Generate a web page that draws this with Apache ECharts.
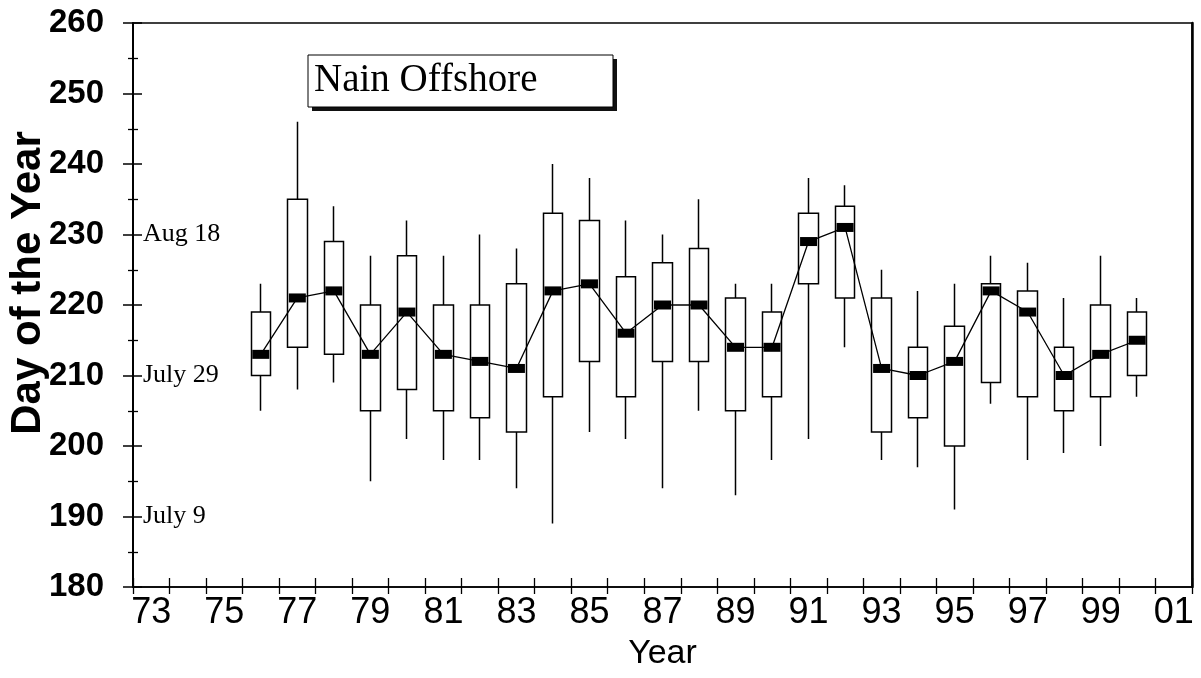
<!DOCTYPE html>
<html>
<head>
<meta charset="utf-8">
<script src="https://cdn.jsdelivr.net/npm/echarts@6/dist/echarts.min.js"></script>
<style>
  html, body { margin: 0; padding: 0; background: #fff; }
  #chart { width: 1201px; height: 678px; }
</style>
</head>
<body>
<div id="chart"></div>
<script>
// x axis categories, 73 .. 01
const categories = ['73', '74', '75', '76', '77', '78', '79', '80', '81', '82', '83', '84', '85', '86',
  '87', '88', '89', '90', '91', '92', '93', '94', '95', '96', '97', '98', '99', '00', '01']

// years that have a box
const years = ['76', '77', '78', '79', '80', '81', '82', '83', '84', '85', '86', '87', '88',
  '89', '90', '91', '92', '93', '94', '95', '96', '97', '98', '99', '00']
const lows    = [205, 208, 209, 195, 201, 198, 198, 194, 189, 202, 201, 194, 205, 193, 198, 201, 214, 198, 197, 191, 206, 198, 199, 200, 207]
const q1      = [210, 214, 213, 205, 208, 205, 204, 202, 207, 212, 207, 212, 212, 205, 207, 223, 221, 202, 204, 200, 209, 207, 205, 207, 210]
const medians = [213, 221, 222, 213, 219, 213, 212, 211, 222, 223, 216, 220, 220, 214, 214, 229, 231, 211, 210, 212, 222, 219, 210, 213, 215]
const q3      = [219, 235, 229, 220, 227, 220, 220, 223, 233, 232, 224, 226, 228, 221, 219, 233, 234, 221, 214, 217, 223, 222, 214, 220, 219]
const highs   = [223, 246, 234, 227, 232, 227, 230, 228, 240, 238, 232, 230, 235, 223, 223, 238, 237, 225, 222, 223, 227, 226, 221, 227, 221]

// date labels inside the y axis
const dateTicks = [190, 210, 230]
const dateNames = ['July 9', 'July 29', 'Aug 18']

const chart = echarts.init(document.getElementById('chart'))

const boxData = years.map((y, i) => [categories.indexOf(y), q1[i], q3[i], lows[i], highs[i]])
const medData = years.map((y, i) => [categories.indexOf(y), medians[i]])

const sans = '"Liberation Sans", Arial, sans-serif'
const serif = '"Liberation Serif", "Times New Roman", serif'

const xBase = {
  type: 'category',
  data: categories,
  position: 'bottom',
  boundaryGap: true,
  splitLine: { show: false },
}
const yBase = {
  type: 'value',
  position: 'left',
  min: 180,
  max: 260,
  interval: 10,
  splitLine: { show: false },
}

chart.setOption({
  animation: false,
  backgroundColor: '#fff',
  grid: {
    left: 133, right: 9, top: 23, bottom: 91,
    show: true, borderColor: '#000', borderWidth: 1.5, backgroundColor: 'transparent',
  },
  xAxis: [
    {
      ...xBase,
      name: 'Year',
      nameLocation: 'middle',
      nameGap: 50,
      nameTextStyle: { fontFamily: sans, fontSize: 34, color: '#000' },
      axisLine: { lineStyle: { color: '#000', width: 1.5 } },
      axisTick: { show: true, interval: 0, inside: false, length: 7, lineStyle: { color: '#000', width: 1.3 } },
      axisLabel: { interval: 1, fontFamily: sans, fontSize: 36, color: '#000', margin: 8 },
    },
    {
      ...xBase,
      axisLine: { show: false },
      axisTick: { show: true, interval: 0, inside: true, length: 9, lineStyle: { color: '#000', width: 1.3 } },
      axisLabel: { show: false },
    },
  ],
  yAxis: [
    {
      ...yBase,
      axisLine: { show: true, lineStyle: { color: '#000', width: 2 } },
      axisTick: { show: true, inside: false, length: 10, lineStyle: { color: '#000', width: 1.5 } },
      minorTick: { show: true, splitNumber: 2, length: 5, lineStyle: { color: '#000', width: 1.3 } },
      minorSplitLine: { show: false },
      axisLabel: { fontFamily: sans, fontWeight: 'bold', fontSize: 33, color: '#000', margin: 29 },
    },
    {
      ...yBase,
      axisLine: { show: false },
      axisTick: { show: true, inside: true, length: 9, lineStyle: { color: '#000', width: 1.5 } },
      minorTick: { show: true, splitNumber: 2, length: 5, lineStyle: { color: '#000', width: 1.3 } },
      axisLabel: {
        inside: true,
        margin: 10,
        fontFamily: serif,
        fontSize: 26,
        color: '#000',
        formatter: (v) => {
          const k = dateTicks.indexOf(v)
          return k >= 0 ? dateNames[k] : ''
        },
      },
    },
    {
      // heavier right frame
      ...yBase,
      position: 'right',
      axisLine: { show: true, lineStyle: { color: '#000', width: 2.5 } },
      axisTick: { show: false },
      axisLabel: { show: false },
    },
  ],
  series: [
    {
      type: 'candlestick',
      xAxisIndex: 0,
      yAxisIndex: 0,
      barWidth: 20,
      encode: { x: 0, y: [1, 2, 3, 4] },
      data: boxData,
      itemStyle: {
        color: '#fff', color0: '#fff',
        borderColor: '#000', borderColor0: '#000',
        borderWidth: 1.5,
      },
      emphasis: { disabled: true },
      z: 2,
    },
    {
      type: 'line',
      xAxisIndex: 0,
      yAxisIndex: 0,
      data: medData,
      symbol: 'rect',
      symbolSize: [17, 9],
      itemStyle: { color: '#000' },
      lineStyle: { color: '#000', width: 1.3 },
      emphasis: { disabled: true },
      z: 3,
    },
  ],
  graphic: [
    {
      type: 'text',
      x: 28,
      y: 283,
      rotation: Math.PI / 2,
      style: {
        text: 'Day of the Year',
        fontFamily: sans,
        fontWeight: 'bold',
        fontSize: 42,
        fill: '#000',
        align: 'center',
        verticalAlign: 'middle',
      },
    },
    {
      type: 'group',
      children: [
        { type: 'rect', shape: { x: 312, y: 59, width: 305, height: 52 }, style: { fill: '#111' } },
        { type: 'rect', shape: { x: 308, y: 55, width: 305, height: 52 }, style: { fill: '#fff', stroke: '#000', lineWidth: 1 } },
        { type: 'text', x: 314, y: 81, style: { text: 'Nain Offshore', fontFamily: serif, fontSize: 39, fill: '#000', verticalAlign: 'middle' } },
      ],
    },
  ],
})
</script>
</body>
</html>
